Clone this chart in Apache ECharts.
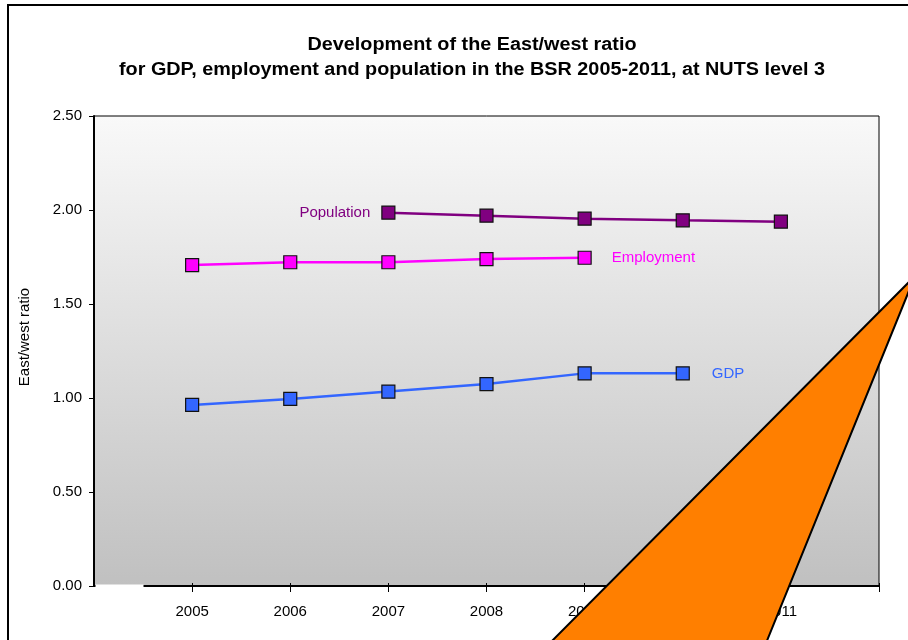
<!DOCTYPE html>
<html>
<head>
<meta charset="utf-8">
<script src="https://cdn.jsdelivr.net/npm/echarts@6/dist/echarts.min.js"></script>
<style>
  html, body { margin: 0; padding: 0; background: #fff; }
  #chart { width: 908px; height: 640px; }
</style>
</head>
<body>
<div id="chart"></div>
<script>
// Axis categories: the blank ends pad the axis half a step on each side
const years = ['2005', '2006', '2007', '2008', '2009', '2010', '2011'];
const axisYears = [''].concat(years, ['']);

// East/west ratio per year (null = no value)
const gdp        = [0.963, 0.995, 1.034, 1.074, 1.131, 1.131, null];
const employment = [1.707, 1.722, 1.722, 1.739, 1.746, null, null];
const population = [null, null, 1.986, 1.970, 1.954, 1.945, 1.938];

const yTicks = { min: 0, max: 2.5, step: 0.5 };

const titleLines = [
  'Development of the East/west ratio',
  'for GDP, employment and population in the BSR 2005-2011, at NUTS level 3'
];
const yName = 'East/west ratio';

const FONT = 'Liberation Sans, Arial, sans-serif';

function padded(arr) { return [null].concat(arr, [null]); }

function labelled(arr, index, position, color, distance) {
  return padded(arr).map(function (v, i) {
    if (i === index + 1 && v != null) {
      return {
        value: v,
        label: { show: true, position: position, distance: distance, color: color,
                 fontFamily: FONT, fontSize: 15, formatter: '{a}' }
      };
    }
    return v;
  });
}

function lineSeries(name, arr, color, labelIndex, labelPos, dist) {
  return {
    name: name,
    type: 'line',
    data: labelled(arr, labelIndex, labelPos, color, dist),
    symbol: 'rect',
    symbolSize: 13,
    showAllSymbol: true,
    connectNulls: false,
    lineStyle: { color: color, width: 2.5 },
    itemStyle: { color: color, borderColor: '#111', borderWidth: 1.2 },
    emphasis: { disabled: true },
    z: 3
  };
}

const chart = echarts.init(document.getElementById('chart'), null, { renderer: 'canvas' });

chart.setOption({
  animation: false,
  backgroundColor: '#fff',
  grid: {
    left: 94, right: 29, top: 116, bottom: 54,
    show: true,
    borderColor: '#000',
    borderWidth: 1,
    backgroundColor: {
      type: 'linear', x: 0, y: 0, x2: 0, y2: 1,
      colorStops: [{ offset: 0, color: '#f9f9f9' }, { offset: 1, color: '#c0c0c0' }]
    }
  },
  xAxis: [{
    type: 'category',
    data: axisYears,
    boundaryGap: false,
    axisLine: { show: true, lineStyle: { color: '#000', width: 2 } },
    axisTick: { show: true, length: 6, interval: function (i) { return i > 0; },
                lineStyle: { color: '#000', width: 1 } },
    axisLabel: { color: '#000', fontFamily: FONT, fontSize: 15, margin: 18, interval: 0 },
    splitLine: { show: false }
  }, {
    type: 'category',
    data: axisYears,
    boundaryGap: false,
    position: 'bottom',
    axisLine: { show: false },
    axisTick: { show: true, inside: true, length: 3, interval: function (i) { return i > 0; },
                lineStyle: { color: '#000', width: 1 } },
    axisLabel: { show: false },
    splitLine: { show: false }
  }],
  yAxis: {
    type: 'value',
    min: yTicks.min, max: yTicks.max, interval: yTicks.step,
    axisLine: { show: true, lineStyle: { color: '#000', width: 2 } },
    axisTick: { show: true, length: 5, lineStyle: { color: '#000', width: 1 } },
    axisLabel: { color: '#000', fontFamily: FONT, fontSize: 15, margin: 12,
                 formatter: function (v) { return v.toFixed(2); } },
    splitLine: { show: false }
  },
  series: [
    lineSeries('GDP', gdp, '#3366ff', 5, 'right', 22),
    lineSeries('Employment', employment, '#ff00ff', 4, 'right', 20),
    lineSeries('Population', population, '#800080', 2, 'left', 11)
  ],
  graphic: [
    // chart title, slightly widened
    { type: 'text', x: 472, y: 57.5, scaleX: 1.1, z: 40,
      style: { text: titleLines.join('\n'), align: 'center', verticalAlign: 'middle',
               fontFamily: FONT, fontSize: 18, fontWeight: 'bold', fill: '#000', lineHeight: 25 } },
    // value axis title
    { type: 'text', x: 25, y: 337, rotation: Math.PI / 2, z: 40,
      style: { text: yName, align: 'center', verticalAlign: 'middle',
               fontFamily: FONT, fontSize: 15, fill: '#000' } },
    // white gap on the category axis line near the value axis
    { type: 'rect', shape: { x: 95.5, y: 584.5, width: 48, height: 4 },
      style: { fill: '#fff' }, z: 50 },
    // outer frame
    { type: 'rect', shape: { x: 8, y: 5, width: 960, height: 700 },
      style: { fill: 'none', stroke: '#000', lineWidth: 2 }, z: 60 },
    // orange pointer
    { type: 'polygon', shape: { points: [[540, 653], [915, 276], [762, 653]] },
      style: { fill: '#ff7f00', stroke: '#000', lineWidth: 2 }, z: 70 }
  ]
});
</script>
</body>
</html>
